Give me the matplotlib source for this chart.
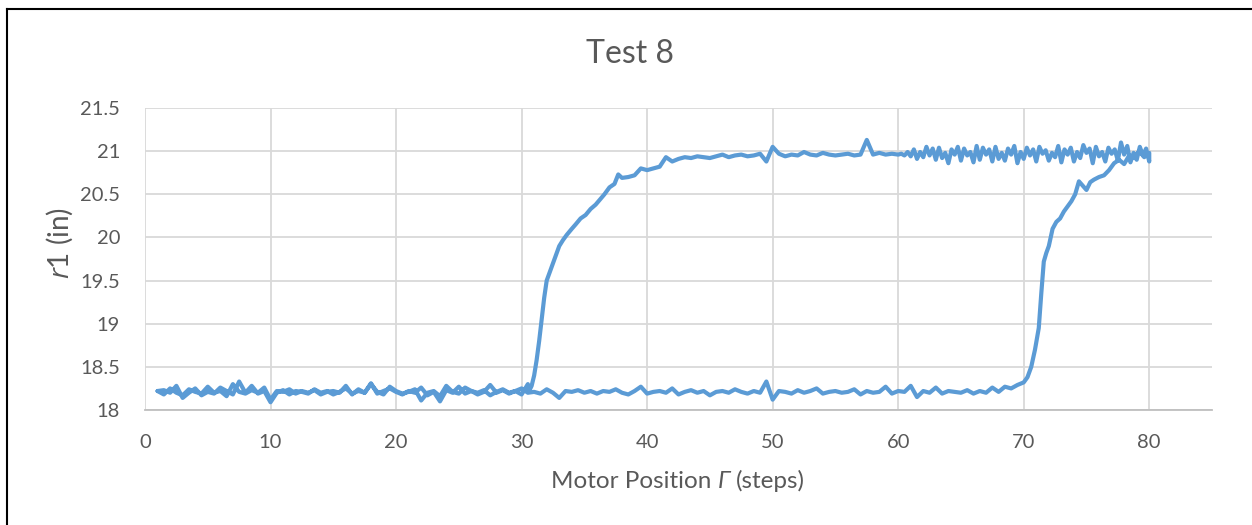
import numpy as np
import matplotlib.pyplot as plt
from matplotlib.lines import Line2D

# r1 readings along the loop: going out from step 1 to 80 on the low branch,
# then coming back from 80 to 1 on the high branch.
fwd_low_pos = np.arange(1.0, 69.6, 0.5)
fwd_low_r1 = [
    18.22, 18.18, 18.25, 18.20, 18.17, 18.24, 18.21, 18.19, 18.27, 18.20,
    18.22, 18.16, 18.30, 18.21, 18.19, 18.23, 18.20, 18.26, 18.12, 18.22,
    18.21, 18.24, 18.19, 18.22, 18.20, 18.23, 18.18, 18.21, 18.22, 18.20,
    18.28, 18.18, 18.24, 18.20, 18.31, 18.19, 18.22, 18.25, 18.21, 18.18,
    18.22, 18.20, 18.26, 18.17, 18.21, 18.10, 18.23, 18.20, 18.27, 18.19,
    18.22, 18.18, 18.21, 18.29, 18.20, 18.23, 18.19, 18.22, 18.25, 18.20,
    18.21, 18.19, 18.24, 18.20, 18.14, 18.22, 18.21, 18.23, 18.20, 18.22,
    18.19, 18.22, 18.21, 18.24, 18.20, 18.18, 18.22, 18.27, 18.19, 18.21,
    18.22, 18.20, 18.25, 18.18, 18.21, 18.23, 18.20, 18.22, 18.17, 18.21,
    18.22, 18.20, 18.24, 18.21, 18.19, 18.22, 18.20, 18.33, 18.12, 18.22,
    18.21, 18.19, 18.23, 18.20, 18.22, 18.25, 18.19, 18.21, 18.22, 18.20,
    18.21, 18.24, 18.18, 18.22, 18.20, 18.21, 18.27, 18.19, 18.22, 18.21,
    18.28, 18.15, 18.22, 18.20, 18.26, 18.19, 18.22, 18.21, 18.20, 18.23,
    18.19, 18.22, 18.20, 18.26, 18.21, 18.27, 18.25, 18.29,
]

fwd_rise_pos = [70.0, 70.3, 70.6, 70.9, 71.2, 71.4, 71.6, 71.8, 72.0, 72.3,
                72.6, 72.9, 73.2, 73.5, 73.8, 74.1, 74.4, 74.7, 75.0, 75.3,
                75.6, 76.0, 76.4, 76.8, 77.2, 77.6, 78.0, 78.4, 78.8, 79.2,
                79.6, 80.0]
fwd_rise_r1 = [18.32, 18.38, 18.50, 18.70, 18.95, 19.35, 19.72, 19.82, 19.90, 20.10,
               20.18, 20.22, 20.30, 20.36, 20.42, 20.50, 20.65, 20.60, 20.55, 20.64,
               20.67, 20.70, 20.72, 20.78, 20.86, 20.90, 20.85, 20.95, 20.92, 21.00,
               20.93, 20.98]

back_noisy_pos = np.arange(80.0, 59.9, -0.25)
back_noisy_r1 = [
    20.88, 21.03, 20.95, 21.05, 20.90, 20.98, 20.87, 21.06, 20.96, 21.10,
    20.89, 21.02, 20.97, 21.04, 20.88, 20.99, 20.94, 21.05, 20.86, 21.03,
    20.98, 21.07, 20.92, 20.99, 20.88, 21.04, 20.96, 21.02, 20.87, 21.06,
    20.93, 20.98, 20.89, 21.01, 20.97, 21.05, 20.88, 21.02, 20.95, 21.04,
    20.91, 20.99, 20.86, 21.06, 20.96, 21.03, 20.89, 20.98, 20.91, 21.05,
    20.88, 21.02, 20.96, 21.04, 20.90, 21.06, 20.87, 20.99, 20.95, 21.03,
    20.89, 21.05, 20.96, 21.02, 20.86, 20.98, 20.92, 21.04, 20.90, 21.03,
    20.95, 21.05, 20.93, 20.99, 20.91, 21.02, 20.94, 20.99, 20.95, 20.97,
    20.96,
]

back_flat_pos = np.arange(59.5, 41.9, -0.5)
back_flat_r1 = [
    20.97, 20.96, 20.98, 20.96, 21.13, 20.96, 20.95, 20.97, 20.96, 20.95,
    20.96, 20.98, 20.95, 20.96, 20.99, 20.95, 20.96, 20.94, 20.97, 21.05,
    20.88, 20.97, 20.95, 20.94, 20.96, 20.95, 20.93, 20.96, 20.94, 20.92,
    20.93, 20.94, 20.92, 20.93, 20.91, 20.88,
]

back_drop_pos = [41.5, 41.0, 40.5, 40.0, 39.5, 39.0, 38.5, 38.0, 37.7, 37.4,
                 37.0, 36.6, 36.25, 35.9, 35.5, 35.1, 34.7, 34.3, 34.0, 33.6,
                 33.3, 33.0, 32.8, 32.5, 32.2, 32.0, 31.8, 31.6, 31.4, 31.2,
                 31.0, 30.8, 30.6]
back_drop_r1 = [20.93, 20.82, 20.80, 20.78, 20.80, 20.72, 20.70, 20.69, 20.73, 20.62,
                20.58, 20.50, 20.44, 20.38, 20.33, 20.26, 20.22, 20.15, 20.10, 20.03,
                19.97, 19.90, 19.82, 19.70, 19.58, 19.50, 19.30, 19.05, 18.80, 18.58,
                18.40, 18.28, 18.22]

back_low_pos = np.arange(30.5, 0.9, -0.5)
back_low_r1 = [
    18.30, 18.18, 18.22, 18.20, 18.24, 18.21, 18.17, 18.23, 18.20, 18.22,
    18.26, 18.19, 18.21, 18.28, 18.16, 18.22, 18.20, 18.11, 18.24, 18.21,
    18.19, 18.22, 18.27, 18.18, 18.21, 18.30, 18.20, 18.22, 18.19, 18.25,
    18.21, 18.18, 18.22, 18.20, 18.24, 18.19, 18.21, 18.22, 18.18, 18.23,
    18.20, 18.09, 18.22, 18.19, 18.28, 18.20, 18.33, 18.18, 18.22, 18.26,
    18.19, 18.21, 18.17, 18.25, 18.20, 18.14, 18.28, 18.20, 18.23, 18.22,
]

x_ticks = [0, 10, 20, 30, 40, 50, 60, 70, 80]
y_ticks = [18, 18.5, 19, 19.5, 20, 20.5, 21, 21.5]
y_tick_labels = ["18", "18.5", "19", "19.5", "20", "20.5", "21", "21.5"]

position = np.concatenate([fwd_low_pos, fwd_rise_pos, back_noisy_pos,
                           back_flat_pos, back_drop_pos, back_low_pos])
r1 = np.concatenate([fwd_low_r1, fwd_rise_r1, back_noisy_r1,
                     back_flat_r1, back_drop_r1, back_low_r1])

plt.rcParams['font.family'] = ['Lato', 'DejaVu Sans']
plt.rcParams['mathtext.fontset'] = 'custom'
plt.rcParams['mathtext.rm'] = 'Lato'
plt.rcParams['mathtext.it'] = 'Open Sans:italic'

text_grey = '#595959'
grid_grey = '#D9D9D9'

fig = plt.figure(figsize=(12.52, 5.25), dpi=100)
ax = fig.add_axes([145 / 1252, 1 - 410 / 525, (1212 - 145) / 1252, (410 - 108) / 525])

ax.plot(position, r1, color='#5B9BD5', linewidth=3.0, solid_joinstyle='round',
        solid_capstyle='round', zorder=3)

ax.set_xlim(0, 85)
ax.set_ylim(18, 21.5)
ax.set_xticks(x_ticks)
ax.set_yticks(y_ticks)
ax.set_yticklabels(y_tick_labels)
ax.grid(True, color=grid_grey, linewidth=1.3)
ax.set_axisbelow(True)
ax.tick_params(length=0, labelsize=14.5, labelcolor=text_grey)
ax.tick_params(axis='y', pad=18)
ax.tick_params(axis='x', pad=17)

for side in ('top', 'right', 'left'):
    ax.spines[side].set_visible(False)
ax.spines['bottom'].set_color('#BFBFBF')
ax.spines['bottom'].set_linewidth(1.3)

fig.text(630 / 1252, 1 - 54 / 525, "Test 8", ha='center', va='center',
         fontsize=23, color=text_grey)
fig.text(60 / 1252, 1 - 243 / 525, r"$\mathit{r1}$ (in)", ha='center', va='center',
         rotation=90, fontsize=20, color=text_grey)

# x label in three pieces so the Gamma can be set in italics
renderer = fig.canvas.get_renderer()
pieces = [("Motor Position", 'normal'), ("\u0393", 'italic'), ("(steps)", 'normal')]
gap = 6
texts = []
for s, style in pieces:
    t = fig.text(0, 1 - 481 / 525, s, ha='left', va='center', fontsize=17.5,
                 fontstyle=style, color=text_grey, family=['Lato', 'DejaVu Sans'])
    texts.append(t)
widths = [t.get_window_extent(renderer).width for t in texts]
x0 = 678 - (sum(widths) + gap * (len(widths) - 1)) / 2
for t, w in zip(texts, widths):
    t.set_x(x0 / 1252)
    x0 += w + gap

# black frame along the top and left edges of the chart area
fig.add_artist(Line2D([6.5 / 1252, 6.5 / 1252], [0, 1 - 8.5 / 525],
                      transform=fig.transFigure, color='black', linewidth=1.5))
fig.add_artist(Line2D([6.5 / 1252, 1], [1 - 8.5 / 525, 1 - 8.5 / 525],
                      transform=fig.transFigure, color='black', linewidth=1.5))

fig.savefig('out.png', dpi=100)
